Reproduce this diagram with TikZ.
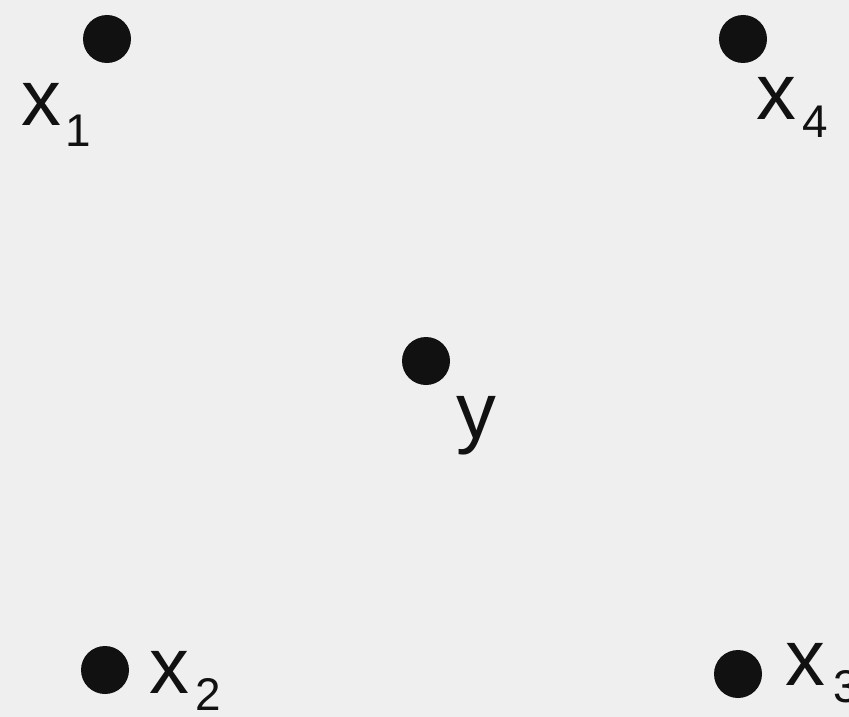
\documentclass[tikz,border=0pt]{standalone}
\usepackage{fontspec}
\setmainfont{Liberation Sans}
\definecolor{bgc}{HTML}{EFEFEF}
\definecolor{ink}{HTML}{111111}
\begin{document}
\begin{tikzpicture}[x=1bp,y=-1bp,
  dot/.style={circle,fill=ink,draw=none,inner sep=0pt,minimum size=48bp},
  lbl/.style={anchor=base west,inner sep=0pt,text=ink,font=\fontsize{80}{84}\selectfont},
  sub/.style={anchor=base west,inner sep=0pt,text=ink,font=\fontsize{46}{50}\selectfont}]
\fill[bgc] (0,0) rectangle (849,717);
\useasboundingbox (0,0) rectangle (849,717);
\node[dot] (d1) at (107,39) {};
\node[dot] (d4) at (743,39) {};
\node[dot] (dy) at (426,361) {};
\node[dot] (d2) at (105,670) {};
\node[dot] (d3) at (738,674) {};
\node[lbl] (l1) at (21,126) {x};
\node[sub] (s1) at (65,147) {1};
\node[lbl] (l4) at (756,120) {x};
\node[sub] (s4) at (802,138) {4};
\node[lbl] (ly) at (456,438) {y};
\node[lbl] (l2) at (149,693) {x};
\node[sub] (s2) at (195,710) {2};
\node[lbl] (l3) at (785,685) {x};
\node[sub] (s3) at (833,702) {3};
\end{tikzpicture}
\end{document}
